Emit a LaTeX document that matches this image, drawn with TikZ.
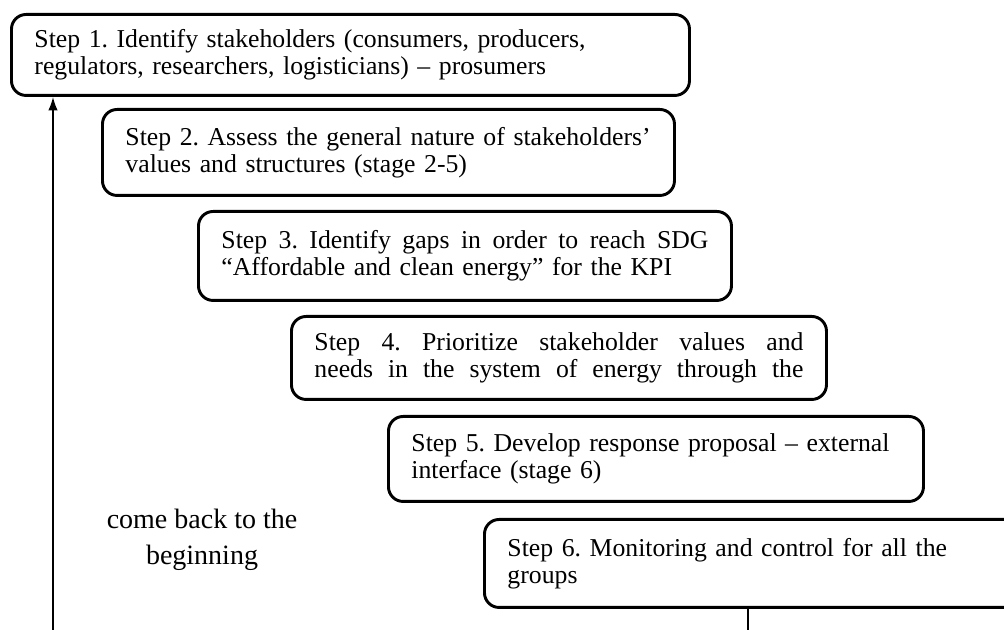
\documentclass[tikz,border=0pt]{standalone}
\usepackage{fontspec}
\setmainfont{Liberation Serif}
\usetikzlibrary{arrows.meta}
\newdimen\pxu \pxu=0.75pt
\newcommand{\jline}[2]{\hbox to #1\pxu{#2}}
\frenchspacing
\begin{document}
\begin{tikzpicture}[x=0.75pt,y=-0.75pt,
  stepbox/.style={draw, line width=2.2pt, rounded corners=11pt, inner xsep=23\pxu, inner ysep=0pt,
    align=left, anchor=north west, font=\fontsize{19.3}{20.25}\selectfont},
  link/.style={line width=1.2pt},
]
\useasboundingbox (0,0) rectangle (1004,630);
\node[stepbox, text width=632\pxu, minimum height=81\pxu] (box1) at (10,13)
  {\mbox{Step 1. Identify stakeholders (consumers, producers,}\\\mbox{regulators, researchers, logisticians) – prosumers}};
\node[stepbox, text width=526\pxu, minimum height=86\pxu] (box2) at (101,108)
  {\mbox{Step 2. Assess the general nature of stakeholders’}\\\mbox{values and structures (stage 2-5)}};
\node[stepbox, text width=487\pxu, minimum height=89\pxu] (box3) at (197,210)
  {\jline{487}{Step\hfill{} 3.\hfill{} Identify\hfill{} gaps\hfill{} in\hfill{} order\hfill{} to\hfill{} reach\hfill{} SDG}\\\mbox{“Affordable and clean energy” for the KPI}};
\node[stepbox, text width=489\pxu, minimum height=83\pxu] (box4) at (290,315)
  {\jline{489}{Step\hfill{} 4.\hfill{} Prioritize\hfill{} stakeholder\hfill{} values\hfill{} and}\\\jline{489}{needs\hfill{} in\hfill{} the\hfill{} system\hfill{} of\hfill{} energy\hfill{} through\hfill{} the}};
\node[stepbox, text width=489\pxu, minimum height=85\pxu] (box5) at (387,415)
  {\mbox{Step 5. Develop response proposal – external}\\\mbox{interface (stage 6)}};
\node[stepbox, text width=514\pxu, minimum height=88\pxu] (box6) at (483,518)
  {\mbox{Step 6. Monitoring and control for all the}\\\mbox{groups}};
\node[align=center, font=\fontsize{21}{27}\selectfont] (back) at (202,540) {come back to the\\beginning};
\coordinate (loopstart) at (53,630);
\coordinate (loopend) at (748,630);
\draw[link, -{Latex[length=10pt,width=7pt]}] (loopstart) -- (loopstart |- box1.south);
\draw[link] (loopend |- box6.south) -- (loopend);
\end{tikzpicture}
\end{document}
